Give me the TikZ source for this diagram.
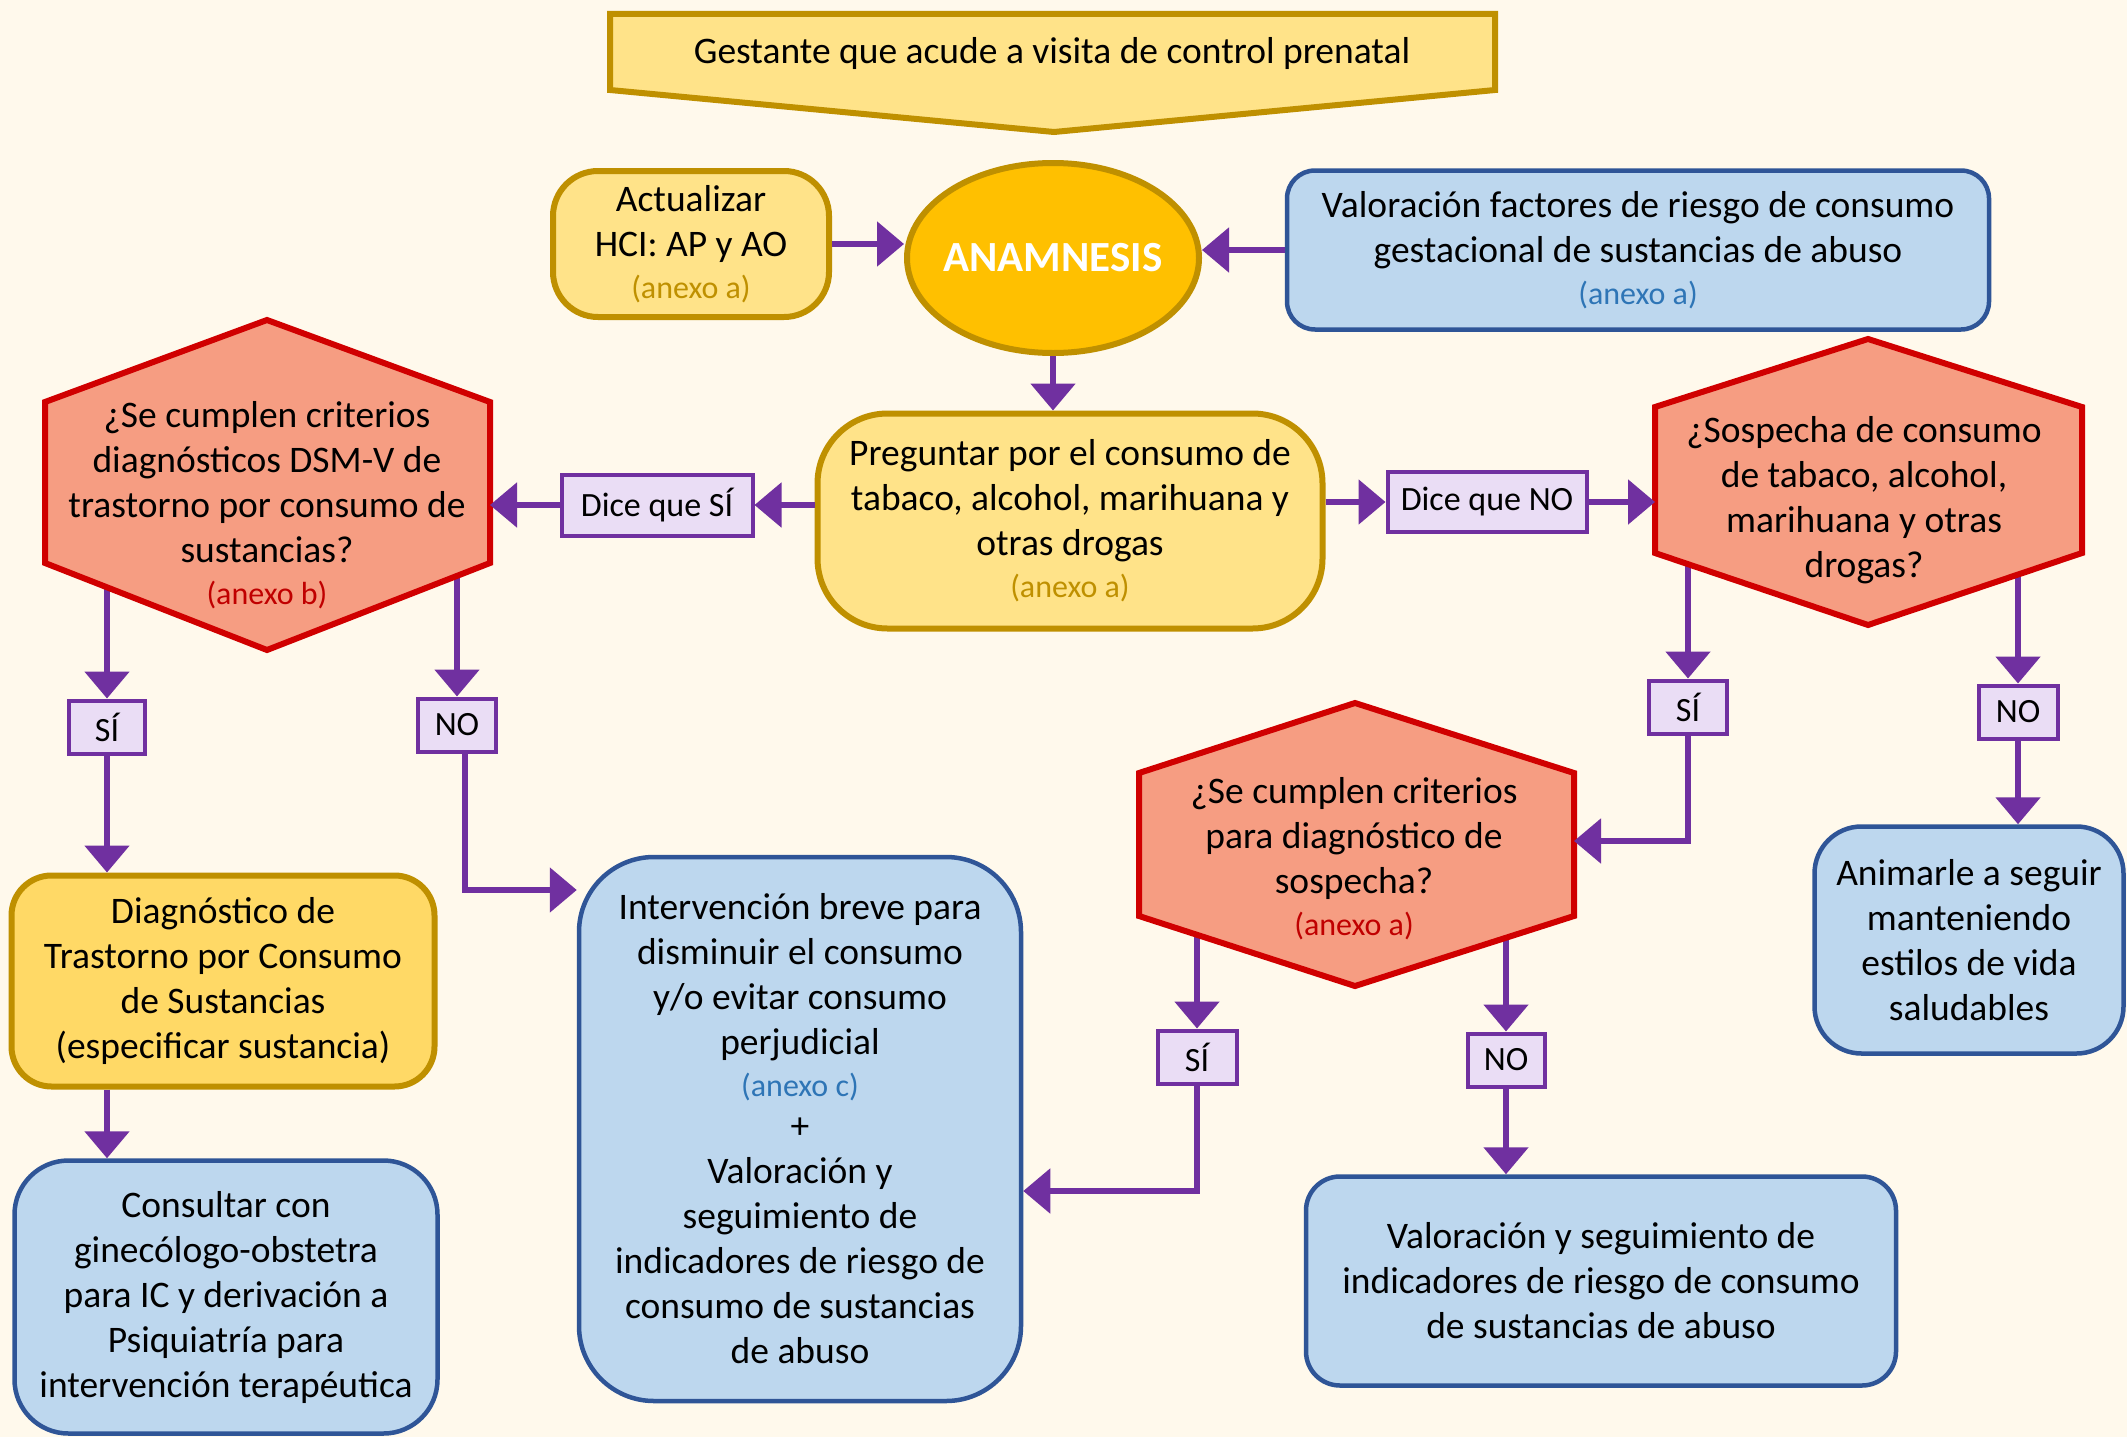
\documentclass[tikz,border=0pt]{standalone}
\usepackage{fontspec}
\setmainfont{Carlito}
\usetikzlibrary{arrows.meta,shapes.geometric,calc}
\pgfdeclarelayer{back}
\pgfdeclarelayer{bg}
\pgfsetlayers{back,bg,main}

\definecolor{cream}{HTML}{FFF9EC}
\definecolor{goldline}{HTML}{BF9000}
\definecolor{ylight}{HTML}{FFE389}
\definecolor{ydark}{HTML}{FFD966}
\definecolor{amber}{HTML}{FFC000}
\definecolor{bluefill}{HTML}{BDD7EE}
\definecolor{blueline}{HTML}{2F5597}
\definecolor{bluetext}{HTML}{2E75B6}
\definecolor{salmon}{HTML}{F69D82}
\definecolor{redline}{HTML}{D00000}
\definecolor{redtext}{HTML}{C00000}
\definecolor{purp}{HTML}{7030A0}
\definecolor{lav}{HTML}{EADDF5}

% smaller coloured reference to an annex
\newcommand{\anx}[2]{{\fontsize{32}{36}\selectfont\color{#1}(anexo #2)}}

\begin{document}
\begin{tikzpicture}[x=1pt,y=-1pt,
  base/.style={align=center, font=\fontsize{37.5}{45}\selectfont, inner sep=0pt, text=black},
  ybox/.style={base, draw=goldline, line width=6pt, fill=ylight, rounded corners=40pt},
  bbox/.style={base, draw=blueline, line width=4.5pt, fill=bluefill, rounded corners=40pt},
  lbl/.style={draw=purp, line width=4pt, fill=lav, font=\fontsize{34}{40}\selectfont, inner sep=0pt},
  hexs/.style={draw=redline, line width=6pt, fill=salmon, line join=miter},
  link/.style={draw=purp, line width=5.5pt, -{Triangle[length=27pt,width=44pt]}}]

\begin{pgfonlayer}{back}
\fill[cream] (0,0) rectangle (2127,1437);
\end{pgfonlayer}
\useasboundingbox (0,0) rectangle (2127,1437);

% entry banner
\draw[goldline, line width=6pt, fill=ylight, line join=miter]
  (610,14) -- (1495,14) -- (1495,90) -- (1054,132) -- (610,90) -- cycle;
\node[base] (start) at (1052,54) {Gestante que acude a visita de control prenatal};

% anamnesis row
\node[ybox, minimum width=276pt, minimum height=146pt, rounded corners=45pt] (act) at (691,244)
  {Actualizar\\HCI: AP y AO\\[-3pt]\anx{goldline}{a}};
\node[ellipse, draw=goldline, line width=6pt, fill=amber, minimum width=292pt, minimum height=190pt,
  inner xsep=-30pt, inner ysep=0pt, text=white, font=\bfseries\fontsize{43}{48}\selectfont] (anam) at (1053,258) {ANAMNESIS};
\node[bbox, minimum width=702pt, minimum height=159pt, rounded corners=28pt] (val) at (1638,250)
  {Valoración factores de riesgo de consumo\\gestacional de sustancias de abuso\\[-3pt]\anx{bluetext}{a}};

% question on consumption
\node[ybox, minimum width=505pt, minimum height=215pt, rounded corners=70pt] (preg) at (1070,521)
  {Preguntar por el consumo de\\tabaco, alcohol, marihuana y\\otras drogas\\[-3pt]\anx{goldline}{a}};
\node[lbl, minimum width=191pt, minimum height=61pt] (dsi) at (657,505) {Dice que SÍ};
\node[lbl, minimum width=199pt, minimum height=60pt] (dno) at (1487,502) {Dice que NO};

% decision hexagons
\draw[hexs] (267,320) -- (490,402) -- (490,563) -- (267,650) -- (45,563) -- (45,402) -- cycle;
\node[base] (h1) at (267,505)
  {¿Se cumplen criterios\\diagnósticos DSM-V de\\trastorno por consumo de\\sustancias?\\[-3pt]\anx{redtext}{b}};
\coordinate (h1e) at (490,505);

\draw[hexs] (1868,339) -- (2082,407) -- (2082,553) -- (1868,625) -- (1655,553) -- (1655,407) -- cycle;
\node[base] (h2) at (1864,500)
  {¿Sospecha de consumo\\de tabaco, alcohol,\\marihuana y otras\\drogas?};
\coordinate (h2w) at (1655,502);

\draw[hexs] (1355,703) -- (1574,773) -- (1574,916) -- (1355,986) -- (1139,916) -- (1139,773) -- cycle;
\node[base] (h3) at (1354,859)
  {¿Se cumplen criterios\\para diagnóstico de\\sospecha?\\[-3pt]\anx{redtext}{a}};
\coordinate (h3e) at (1574,841);

% yes / no labels
\node[lbl, minimum width=76pt, minimum height=53pt] (si1) at (107,727) {SÍ};
\node[lbl, minimum width=78pt, minimum height=53pt] (no1) at (457,725) {NO};
\node[lbl, minimum width=78pt, minimum height=53pt] (si2) at (1688,707) {SÍ};
\node[lbl, minimum width=79pt, minimum height=53pt] (no2) at (2018,712) {NO};
\node[lbl, minimum width=79pt, minimum height=53pt] (si3) at (1197,1057) {SÍ};
\node[lbl, minimum width=77pt, minimum height=53pt] (no3) at (1506,1060) {NO};

% outcome boxes
\node[ybox, fill=ydark, minimum width=423pt, minimum height=211pt, rounded corners=40pt] (diag) at (223,981)
  {Diagnóstico de\\Trastorno por Consumo\\de Sustancias\\(especificar sustancia)};
\node[bbox, minimum width=423pt, minimum height=273pt, rounded corners=54pt] (cons) at (226,1297)
  {Consultar con\\ginecólogo-obstetra\\para IC y derivación a\\Psiquiatría para\\intervención terapéutica};
\node[bbox, minimum width=442pt, minimum height=544pt, rounded corners=75pt] (interv) at (800,1129)
  {Intervención breve para\\disminuir el consumo\\y/o evitar consumo\\perjudicial\\[-3pt]\anx{bluetext}{c}\\[-3pt]+\\Valoración y\\seguimiento de\\indicadores de riesgo de\\consumo de sustancias\\de abuso};
\node[bbox, minimum width=309pt, minimum height=227pt, rounded corners=47pt] (anim) at (1969,940)
  {Animarle a seguir\\manteniendo\\estilos de vida\\saludables};
\node[bbox, minimum width=590pt, minimum height=209pt, rounded corners=34pt] (vys) at (1601,1281)
  {Valoración y seguimiento de\\indicadores de riesgo de consumo\\de sustancias de abuso};

\coordinate (y890) at (0,890);
\coordinate (y1191) at (0,1191);

% connectors leaving the hexagons (drawn underneath them)
\begin{pgfonlayer}{bg}
\draw[link] (si1 |- h1) -- (si1.north);
\draw[link] (no1 |- h1) -- (no1.north);
\draw[link] (si2 |- h2) -- (si2.north);
\draw[link] (no2 |- h2) -- (no2.north);
\draw[link] (si3 |- h3) -- (si3.north);
\draw[link] (no3 |- h3) -- (no3.north);
\end{pgfonlayer}

% remaining connectors
\draw[link] (act.east) -- (anam.west |- act.east);
\draw[link] (val.west) -- (anam.east |- val.west);
\draw[link] (anam.south) -- (anam.south |- preg.north);
\draw[link] (preg.west |- dsi) -- (dsi.east);
\draw[link] (dsi.west) -- (h1e);
\draw[link] (preg.east |- dno) -- (dno.west);
\draw[link] (dno.east) -- (h2w);
\draw[link] (si1.south) -- (si1.south |- diag.north);
\draw[link] ([xshift=8pt]no1.south) |- (interv.west |- y890);
\draw[link] (diag.south -| si1) -- (cons.north -| si1);
\draw[link] (si2.south) |- (h3e);
\draw[link] (no2.south) -- (no2.south |- anim.north);
\draw[link] (si3.south) |- (interv.east |- y1191);
\draw[link] (no3.south) -- (no3.south |- vys.north);
\end{tikzpicture}
\end{document}
